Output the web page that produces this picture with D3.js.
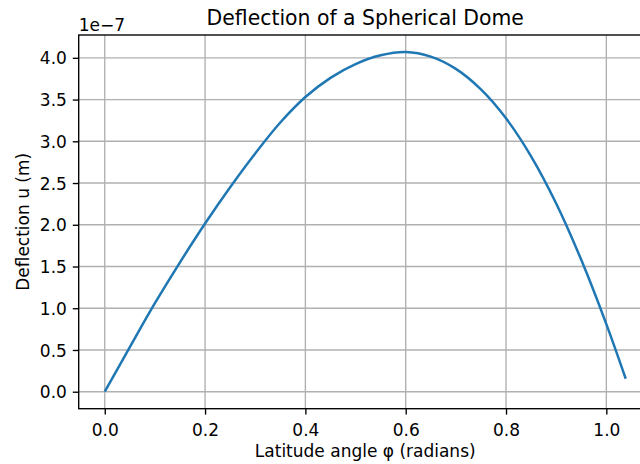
<!DOCTYPE html>
<html>
<head>
<meta charset="utf-8">
<script src="https://cdn.jsdelivr.net/npm/d3@7"></script>
<style>
  html, body { margin: 0; padding: 0; background: #fff; }
  svg { display: block; }
  text { font-family: "DejaVu Sans", sans-serif; fill: #000; }
</style>
</head>
<body>
<svg id="chart" width="640" height="464"></svg>
<script>
// Latitude angle φ (radians)
const phi = [0, 0.05, 0.10, 0.15, 0.20, 0.25, 0.30, 0.35, 0.40, 0.45, 0.50, 0.55, 0.60, 0.65, 0.70, 0.75, 0.80, 0.85, 0.90, 0.95, 1.00, 1.0387];
// Deflection u (m)
const deflection = [0, 0.535e-7, 1.06e-7, 1.55e-7, 2.015e-7, 2.45e-7, 2.855e-7, 3.225e-7, 3.53e-7, 3.76e-7, 3.925e-7, 4.03e-7, 4.07e-7, 4.015e-7, 3.868e-7, 3.622e-7, 3.275e-7, 2.82e-7, 2.255e-7, 1.58e-7, 0.81e-7, 0.155e-7];
const xTicks = [0.0, 0.2, 0.4, 0.6, 0.8, 1.0];
const yTicks = [0.0, 0.5, 1.0, 1.5, 2.0, 2.5, 3.0, 3.5, 4.0].map(v => v * 1e-7);
const title = "Deflection of a Spherical Dome";
const xLabel = "Latitude angle φ (radians)";
const yLabel = "Deflection u (m)";
const offsetText = "1e\u22127";

const svg = d3.select("#chart");
const L = 78.7, T = 35, B = 408.7, R = 651.8;
const tickLen = 5.9, lw = 1.36, fs = 17;

const xMin = d3.min(phi), xMax = d3.max(phi);
const xPad = (xMax - xMin) * 0.05;
const yMin = d3.min(deflection), yMax = d3.max(deflection);
const yPad = (yMax - yMin) * 0.05;

const x = d3.scaleLinear().domain([xMin - xPad, xMax + xPad]).range([L, R]);
const y = d3.scaleLinear().domain([yMin - yPad, yMax + yPad]).range([B, T]);

svg.append("defs").append("clipPath").attr("id", "clip")
  .append("rect").attr("x", L).attr("y", T).attr("width", R - L).attr("height", B - T);

// grid
const grid = svg.append("g");
grid.selectAll(".gx").data(xTicks).enter().append("line")
  .attr("x1", d => x(d)).attr("x2", d => x(d)).attr("y1", T).attr("y2", B)
  .attr("stroke", "#b0b0b0").attr("stroke-width", lw);
grid.selectAll(".gy").data(yTicks).enter().append("line")
  .attr("x1", L).attr("x2", R).attr("y1", d => y(d)).attr("y2", d => y(d))
  .attr("stroke", "#b0b0b0").attr("stroke-width", lw);

// line
const pts = phi.map((p, i) => [p, deflection[i]]);
svg.append("path").datum(pts)
  .attr("clip-path", "url(#clip)")
  .attr("fill", "none").attr("stroke", "#1f77b4").attr("stroke-width", 2.5)
  .attr("stroke-linecap", "butt")
  .attr("d", d3.line().x(d => x(d[0])).y(d => y(d[1])).curve(d3.curveCatmullRom.alpha(0.5)));

// axes
const xAxis = d3.axisBottom(x).tickValues(xTicks).tickFormat(d3.format(".1f")).tickSize(tickLen).tickPadding(5.9);
const yAxis = d3.axisLeft(y).tickValues(yTicks).tickFormat(d => d3.format(".1f")(d / 1e-7)).tickSize(tickLen).tickPadding(5.9);

const gx = svg.append("g").attr("transform", `translate(0,${B})`).call(xAxis);
const gy = svg.append("g").attr("transform", `translate(${L},0)`).call(yAxis);
[gx, gy].forEach(g => {
  g.select(".domain").remove();
  g.selectAll(".tick line").attr("stroke", "#000").attr("stroke-width", lw);
  g.selectAll(".tick text").attr("font-family", "DejaVu Sans").attr("font-size", fs).attr("fill", "#000");
});
gx.selectAll(".tick text").attr("dy", null).attr("y", 27);
gy.selectAll(".tick text").attr("dy", "0.36em").attr("x", -11.8);

// spines
const sp = svg.append("g").attr("stroke", "#000").attr("stroke-width", lw).attr("fill", "none");
sp.append("rect").attr("x", L).attr("y", T).attr("width", R - L).attr("height", B - T);

// texts
svg.append("text").attr("x", (L + R) / 2).attr("y", 24.8).attr("text-anchor", "middle")
  .attr("font-size", 20.4).text(title);
svg.append("text").attr("x", (L + R) / 2).attr("y", 457.4).attr("text-anchor", "middle")
  .attr("font-size", fs).text(xLabel);
svg.append("text").attr("transform", `translate(28.5,${(T + B) / 2}) rotate(-90)`).attr("text-anchor", "middle")
  .attr("font-size", fs).text(yLabel);
svg.append("text").attr("x", L).attr("y", 31).attr("text-anchor", "start")
  .attr("font-size", fs).text(offsetText);
</script>
</body>
</html>
